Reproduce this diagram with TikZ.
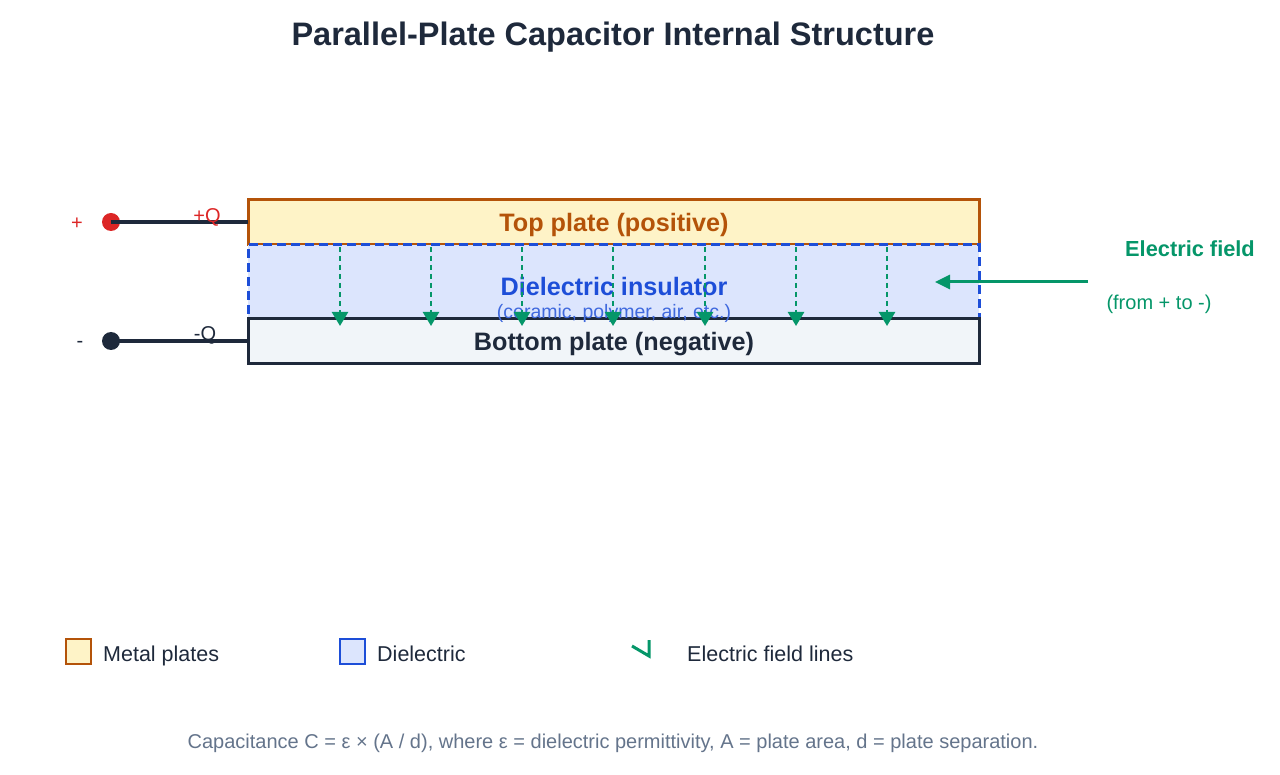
\documentclass[tikz,border=0pt]{standalone}
\usepackage{fontspec}
\setmainfont{Liberation Sans}
\usetikzlibrary{arrows.meta}
\definecolor{orangeB}{HTML}{B45309}
\definecolor{orangeF}{HTML}{FEF3C7}
\definecolor{blueB}{HTML}{1D4ED8}
\definecolor{blueT}{HTML}{1D4ED8}
\definecolor{blueF}{HTML}{DCE5FD}
\definecolor{darkB}{HTML}{1E293B}
\definecolor{greyF}{HTML}{F1F5F9}
\definecolor{greenC}{HTML}{059669}
\definecolor{redC}{HTML}{DC2626}
\definecolor{footC}{HTML}{64748B}
\tikzset{
  plate/.style={draw, line width=3pt, minimum width=731pt, minimum height=45pt, inner sep=0pt},
  diel/.style={draw=blueB, fill=blueF, dash pattern=on 9pt off 5pt, line width=3pt, minimum width=731pt, minimum height=74pt, inner sep=0pt},
  fieldline/.style={draw=greenC, line width=2.5pt, dash pattern=on 5pt off 4pt, -{Triangle[length=14pt,width=16pt]}},
  wire/.style={draw=darkB, line width=4pt},
  legbox/.style={draw, line width=2pt, minimum width=25pt, minimum height=25pt, inner sep=0pt},
  legtext/.style={text=darkB, font=\fontsize{21.5}{24}\selectfont, anchor=base west, inner sep=0pt},
}
\begin{document}
\begin{tikzpicture}[x=1pt,y=-1pt]
\useasboundingbox (0,0) rectangle (1280,775);
% title
\node[font=\bfseries\fontsize{32.5}{36}\selectfont, text=darkB] (title) at (613,37) {Parallel-Plate Capacitor Internal Structure};
% plates
\node[plate, draw=orangeB, fill=orangeF] (top) at (613.5,222.5) {};
\node[diel] (diel) at (613.5,282) {};
\node[plate, draw=darkB, fill=greyF] (bot) at (613.5,341.5) {};
\node[font=\bfseries\fontsize{25.2}{28}\selectfont, text=orangeB] (toplbl) at (614,225) {Top plate (positive)};
\node[font=\bfseries\fontsize{25.2}{28}\selectfont, text=blueT] (diellbl) at (614,286) {Dielectric insulator};
\node[font=\fontsize{19.5}{22}\selectfont, text=blueT!85!white] (diellbl2) at (614,313) {(ceramic, polymer, air, etc.)};
\node[font=\bfseries\fontsize{25.2}{28}\selectfont, text=darkB] (botlbl) at (614,344) {Bottom plate (negative)};
% field lines
\foreach \i/\x in {1/340,2/431,3/522,4/613,5/705,6/796,7/887}{
  \coordinate (fs\i) at (\x,247);
  \coordinate (fe\i) at (\x,326);
  \draw[fieldline] (fs\i) -- (fe\i);
}
% terminals
\coordinate (tpin) at (248,222);
\coordinate (bpin) at (248,341);
\node[circle, fill=redC, minimum size=18pt, inner sep=0pt] (pdot) at (111,222) {};
\node[circle, fill=darkB, minimum size=18pt, inner sep=0pt] (ndot) at (111,341) {};
\draw[wire] (pdot.center) -- (tpin);
\draw[wire] (ndot.center) -- (bpin);
\node[text=redC, font=\fontsize{20}{22}\selectfont] (plus) at (77,224) {+};
\node[text=darkB, font=\fontsize{20}{22}\selectfont] (minus) at (80,344) {-};
\node[text=redC, font=\fontsize{20}{22}\selectfont] (pq) at (207,217) {+Q};
\node[text=darkB, font=\fontsize{20}{22}\selectfont] (nq) at (205,335) {-Q};
% electric field annotation
\coordinate (efs) at (1088,282);
\coordinate (efe) at (935,282);
\draw[draw=greenC, line width=3pt, -{Triangle[length=15pt,width=14pt]}] (efs) -- (efe);
\node[text=greenC, font=\bfseries\fontsize{21.8}{24}\selectfont] (eflbl) at (1190,249) {Electric field};
\node[text=greenC, font=\fontsize{20}{22}\selectfont] (eflbl2) at (1159,304) {(from + to -)};
% legend
\node[legbox, draw=orangeB, fill=orangeF] (lg1) at (78.5,651) {};
\node[legtext] (lt1) at (103,661) {Metal plates};
\node[legbox, draw=blueB, fill=blueF] (lg2) at (352.5,651) {};
\node[legtext] (lt2) at (377,661) {Dielectric};
\coordinate (ck1) at (632,646);
\coordinate (ck2) at (649,656);
\coordinate (ck3) at (649,640);
\draw[draw=greenC, line width=3pt] (ck1) -- (ck2) -- (ck3);
\node[legtext] (lt3) at (687,661) {Electric field lines};
% footer
\node[text=footC, font=\fontsize{20}{22}\selectfont] (foot) at (613,743) {Capacitance C = ε × (A / d), where ε = dielectric permittivity, A = plate area, d = plate separation.};
\end{tikzpicture}
\end{document}
